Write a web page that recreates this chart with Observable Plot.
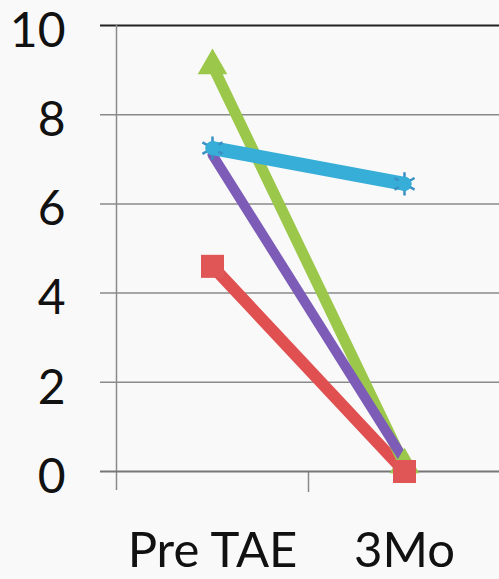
<!DOCTYPE html>
<html>
<head>
<meta charset="utf-8">
<script src="https://cdn.jsdelivr.net/npm/d3@7"></script>
<script src="https://cdn.jsdelivr.net/npm/@observablehq/plot@0.6"></script>
<style>
  html, body { margin: 0; padding: 0; background: #f9f9f9; }
  #chart svg { display: block; }
</style>
</head>
<body>
<div id="chart"></div>
<script>
const categories = ["Pre TAE", "3Mo"];
const yTicks = [0, 2, 4, 6, 8, 10];
const redValues = [4.6, 0.0];
const greenValues = [9.1, 0.15];
const purpleValues = [7.1, 0.25];
const aquaValues = [7.25, 6.45];

const toRows = (vals) => vals.map((v, i) => ({ i, v }));
const red = toRows(redValues);
const green = toRows(greenValues);
const purple = toRows(purpleValues);
const aqua = toRows(aquaValues);

const font = "Lato, 'Open Sans', sans-serif";

const chart = Plot.plot({
  width: 499,
  height: 579,
  marginLeft: 116,
  marginRight: 0,
  marginTop: 25,
  marginBottom: 108,
  style: { background: "#f9f9f9", fontFamily: font, color: "#111" },
  x: { type: "linear", domain: [-0.5, 1.5], range: [116, 500] },
  y: { domain: [0, 10], range: [471, 25] },
  marks: [
    Plot.ruleY(yTicks.filter(d => d > 0 && d < 10), { y: d => d, stroke: "#8a8a8a", strokeWidth: 1.5, insetLeft: -16 }),
    Plot.ruleY([10], { y: d => d, stroke: "#222", strokeWidth: 2, insetLeft: -16 }),
    Plot.ruleX([-0.5], { x: d => d, y1: 10, y2: 0, stroke: "#8a8a8a", strokeWidth: 1.5, insetBottom: -19 }),
    Plot.ruleX([0.5], { x: d => d, y1: 0, y2: 0, stroke: "#8a8a8a", strokeWidth: 1.5, insetBottom: -21 }),
    Plot.ruleY([0], { y: d => d, stroke: "#777", strokeWidth: 2, insetLeft: -16 }),
    Plot.axisY({ ticks: yTicks, tickSize: 0, tickPadding: 51, fontSize: 48, fontFamily: font, label: null, dy: 6 }),
    Plot.axisX({ ticks: [0, 1], tickFormat: i => categories[i], tickSize: 0, tickPadding: 61, fontSize: 49, fontFamily: font, label: null }),
    Plot.line(red, { x: "i", y: "v", stroke: "#e05050", strokeWidth: 12 }),
    Plot.line(green, { x: "i", y: "v", stroke: "#9bc84a", strokeWidth: 11 }),
    Plot.line(purple, { x: "i", y: "v", stroke: "#7d5cb8", strokeWidth: 10 }),
    Plot.line(aqua, { x: "i", y: "v", stroke: "#36aed8", strokeWidth: 14 }),
    Plot.dot(green, { x: "i", y: "v", symbol: "triangle", r: 11, fill: "#9bc84a" }),
    Plot.dot(aqua, { x: "i", y: "v", symbol: "asterisk", r: 11, stroke: "#3a8fc4", strokeWidth: 2.5 }),
    Plot.dot(aqua, { x: "i", y: "v", r: 7, fill: "#36aed8" }),
    Plot.dot(red, { x: "i", y: "v", symbol: "square", r: 13, fill: "#e05555" })
  ]
});
document.getElementById("chart").appendChild(chart);
</script>
</body>
</html>
